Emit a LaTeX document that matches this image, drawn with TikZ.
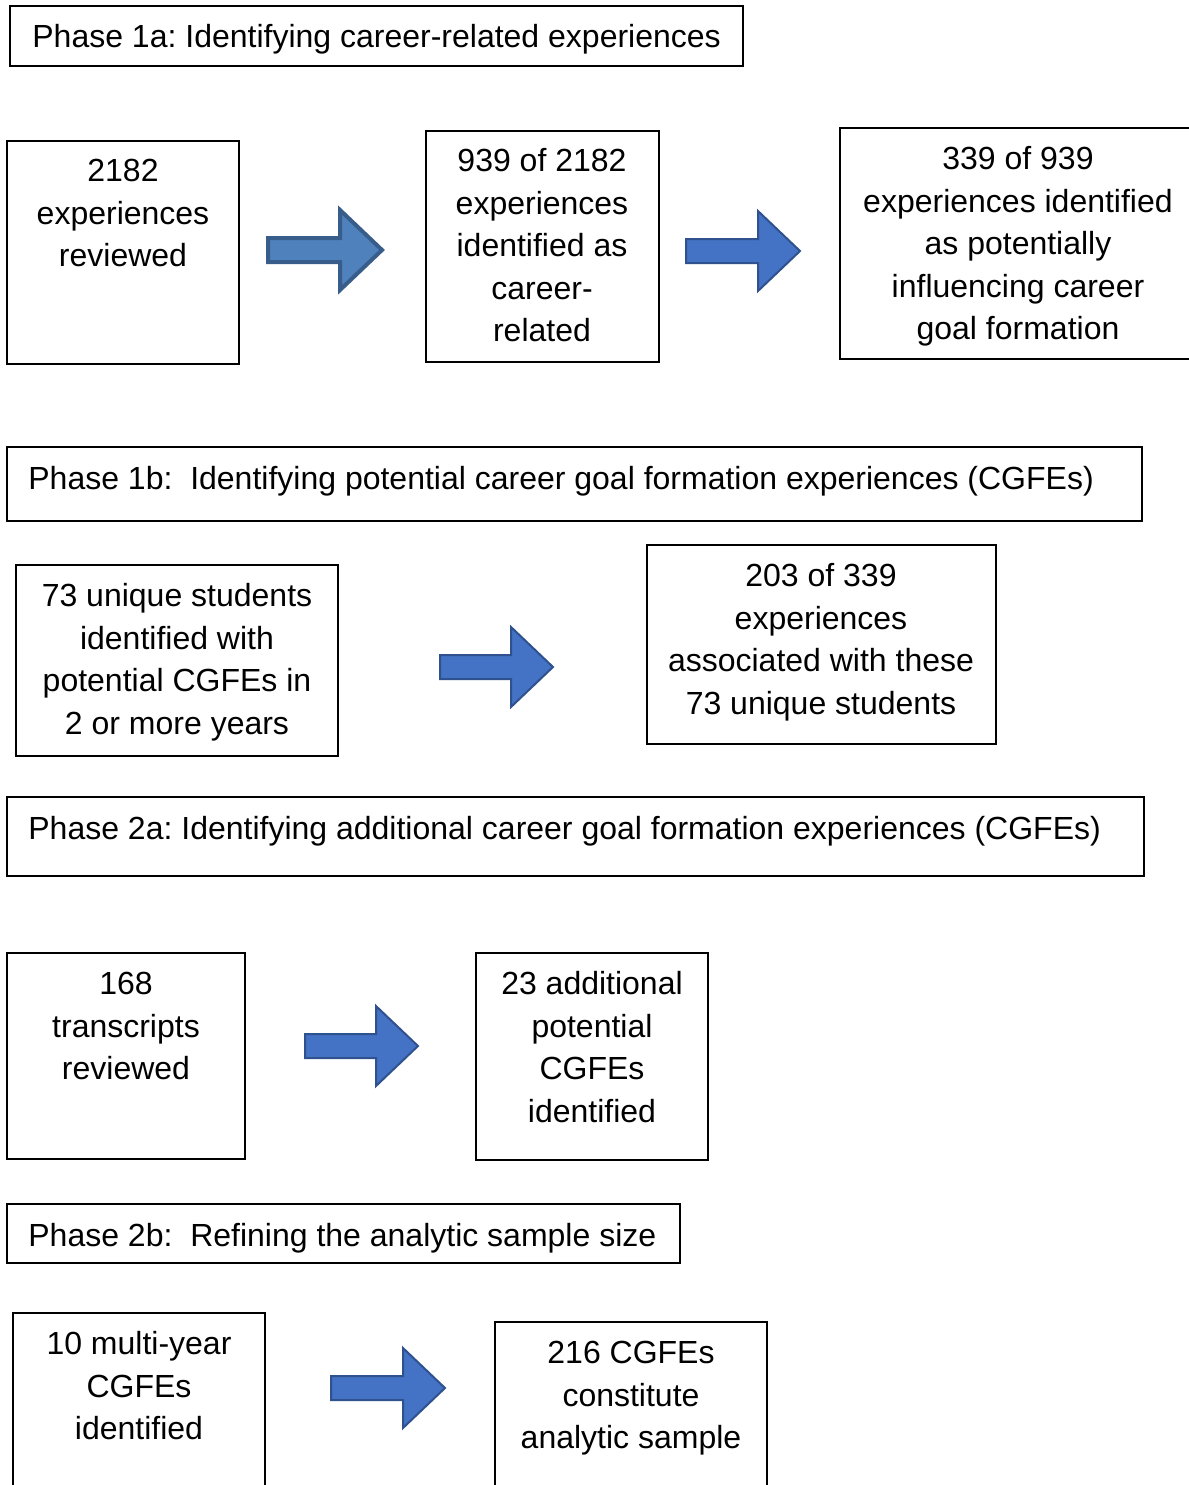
\documentclass[tikz,border=0pt]{standalone}
\usepackage{fontspec}
\setmainfont{Liberation Sans}
\usetikzlibrary{fit}
\frenchspacing
\begin{document}
\begin{tikzpicture}[x=0.5pt,y=-0.5pt,
  box/.style={draw=black, line width=1pt, inner sep=0pt},
  txt/.style={font=\fontsize{16pt}{21.25pt}\selectfont, align=center, inner sep=0pt, anchor=base},
  title/.style={font=\fontsize{16pt}{21.25pt}\selectfont, inner sep=0pt, anchor=base west},
  oldarrow/.style={fill=arrowold, draw=arrowoldedge, line width=2pt, line join=miter},
  newarrow/.style={fill=arrownew, draw=arrownewedge, line width=1pt, line join=miter}]
\definecolor{arrowold}{HTML}{4F81BD}
\definecolor{arrowoldedge}{HTML}{385D8A}
\definecolor{arrownew}{HTML}{4472C4}
\definecolor{arrownewedge}{HTML}{2F528F}
\useasboundingbox (0,0) rectangle (1189,1485);
\clip (0,0) rectangle (1189,1485);
\fill[white] (0,0) rectangle (1189,1485);

% framed box #1 spanning corners (#2,#3) and (#4,#5)
\newcommand{\stepframe}[5]{%
  \node[box, fit={(#2,#3) (#4,#5)}] (#1) {};}
% block arrow: #1 style, (#2,#3) left end of shaft at centre line, #4 length
\newcommand{\blockarrow}[4]{%
  \draw[#1] (#2,#3-12) -- ++(#4-42,0) -- ++(0,-28) -- (#2+#4,#3)
    -- (#2+#4-42,#3+40) -- ++(0,-28) -- (#2,#3+12) -- cycle;}

% Phase 1a
\stepframe{p1a}{10}{6}{743}{66}
\node[title] (p1at) at (32,47.5) {Phase 1a: Identifying career-related experiences};

\stepframe{a1}{7}{141}{239}{364}
\node[txt] (a1t) at (123,266.5) {2182\\experiences\\reviewed};
\blockarrow{oldarrow}{268}{250}{114}

\stepframe{a2}{426}{131}{659}{362}
\node[txt] (a2t) at (542,341.5) {939 of 2182\\experiences\\identified as\\career-\\related};
\blockarrow{newarrow}{686}{251}{114}

\stepframe{a3}{840}{128}{1240}{359}
\node[txt] (a3t) at (1018,339.5) {339 of 939\\experiences identified\\as potentially\\influencing career\\goal formation};

% Phase 1b
\stepframe{p1b}{7}{447}{1142}{521}
\node[title] (p1bt) at (28,489) {Phase 1b:~ Identifying potential career goal formation experiences (CGFEs)};

\stepframe{b1}{16}{565}{338}{756}
\node[txt] (b1t) at (177,734) {73 unique students\\identified with\\potential CGFEs in\\2 or more years};
\blockarrow{newarrow}{440}{667}{113}

\stepframe{b2}{647}{545}{996}{744}
\node[txt] (b2t) at (821,714) {203 of 339\\experiences\\associated with these\\73 unique students};

% Phase 2a
\stepframe{p2a}{7}{797}{1144}{876}
\node[title] (p2at) at (28,839) {Phase 2a: Identifying additional career goal formation experiences (CGFEs)};

\stepframe{c1}{7}{953}{245}{1159}
\node[txt] (c1t) at (126,1079.5) {168\\transcripts\\reviewed};
\blockarrow{newarrow}{305}{1046}{113}

\stepframe{c2}{476}{953}{708}{1160}
\node[txt] (c2t) at (592,1122) {23 additional\\potential\\CGFEs\\identified};

% Phase 2b
\stepframe{p2b}{7}{1204}{680}{1263}
\node[title] (p2bt) at (28,1246) {Phase 2b:~ Refining the analytic sample size};

\stepframe{d1}{13}{1313}{265}{1533}
\node[txt] (d1t) at (139,1439.5) {10 multi-year\\CGFEs\\identified};
\blockarrow{newarrow}{331}{1388}{114}

\stepframe{d2}{495}{1322}{767}{1542}
\node[txt] (d2t) at (631,1448.5) {216 CGFEs\\constitute\\analytic sample};
\end{tikzpicture}
\end{document}
